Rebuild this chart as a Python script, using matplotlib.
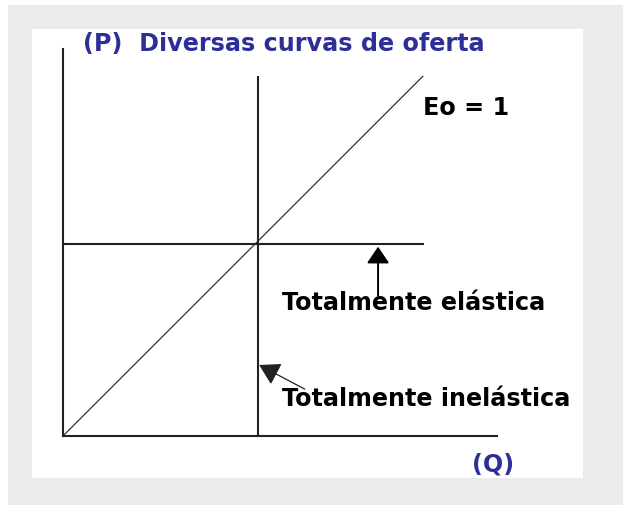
import matplotlib
matplotlib.use("Agg")
import matplotlib.pyplot as plt
from matplotlib.patches import Rectangle, ArrowStyle

# ---- data (Q, P units) ----
unit_elastic_q = [0.0, 9.24]      # Eo = 1 supply line (Q = P)
unit_elastic_p = [0.0, 9.38]
perfect_elastic_q = [0.0, 9.26]   # horizontal supply line
perfect_elastic_p = [5.0, 5.0]
perfect_inelastic_q = [5.0, 5.0]  # vertical supply line
perfect_inelastic_p = [0.0, 9.37]

q_max = 11.13
p_max = 10.08

title_text = "(P)  Diversas curvas de oferta"
q_label = "(Q)"
eo_label = "Eo = 1"
elastic_label = "Totalmente elástica"
inelastic_label = "Totalmente inelástica"

# annotation anchors (tail -> tip)
elastic_arrow_tail = (8.08, 3.65)
elastic_arrow_tip = (8.08, 4.93)
inelastic_arrow_tail = (6.2, 1.22)
inelastic_arrow_tip = (5.03, 1.85)

W, H = 623, 506
fig = plt.figure(figsize=(W / 100, H / 100), dpi=100)
fig.patch.set_facecolor("white")

# frame background
fig.add_artist(Rectangle((8 / W, 0), 1 - 8 / W, (H - 6) / H, transform=fig.transFigure,
                         facecolor="#ebebeb", edgecolor="none", zorder=-10))
fig.add_artist(Rectangle((32 / W, (H - 479) / H), (583 - 32) / W, (479 - 30) / H,
                         transform=fig.transFigure, facecolor="white", edgecolor="none", zorder=-9))

ax = fig.add_axes([63 / W, (H - 437) / H, 434 / W, 387 / H])
ax.set_zorder(1)
ax.set_facecolor("none")
ax.set_xlim(0, q_max)
ax.set_ylim(0, p_max)
for s in ["top", "right"]:
    ax.spines[s].set_visible(False)
for s in ["left", "bottom"]:
    ax.spines[s].set_color("#222222")
    ax.spines[s].set_linewidth(1.5)
ax.set_xticks([])
ax.set_yticks([])

ax.plot(unit_elastic_q, unit_elastic_p, color="#333333", lw=0.9, solid_capstyle="butt")
ax.plot(perfect_elastic_q, perfect_elastic_p, color="#222222", lw=1.5, solid_capstyle="butt")
ax.plot(perfect_inelastic_q, perfect_inelastic_p, color="#222222", lw=1.5, solid_capstyle="butt")

font = dict(family="DejaVu Sans", fontweight="bold", fontsize=17.2)
blue = "#2d2f96"
ax.text(0.51, 10.05, title_text, color=blue, ha="left", va="baseline", clip_on=False, **font)
ax.text(10.49, -0.91, q_label, color=blue, ha="left", va="baseline", clip_on=False, **font)
ax.text(9.23, 8.39, eo_label, color="black", ha="left", va="baseline", **font)
ax.text(5.62, 3.31, elastic_label, color="black", ha="left", va="baseline", clip_on=False, **font)
ax.text(5.62, 0.81, inelastic_label, color="black", ha="left", va="baseline", clip_on=False, **font)

style1 = ArrowStyle("-|>", head_length=0.56, head_width=0.38)
ax.annotate("", xy=elastic_arrow_tip, xytext=elastic_arrow_tail,
            arrowprops=dict(arrowstyle=style1, mutation_scale=18, color="black", lw=1.4,
                            shrinkA=0, shrinkB=0))
style2 = ArrowStyle("-|>", head_length=0.7, head_width=0.41)
ax.annotate("", xy=inelastic_arrow_tip, xytext=inelastic_arrow_tail,
            arrowprops=dict(arrowstyle=style2, mutation_scale=18, color="#222222", lw=0.9,
                            shrinkA=0, shrinkB=0))

fig.savefig("out.png", dpi=100)
